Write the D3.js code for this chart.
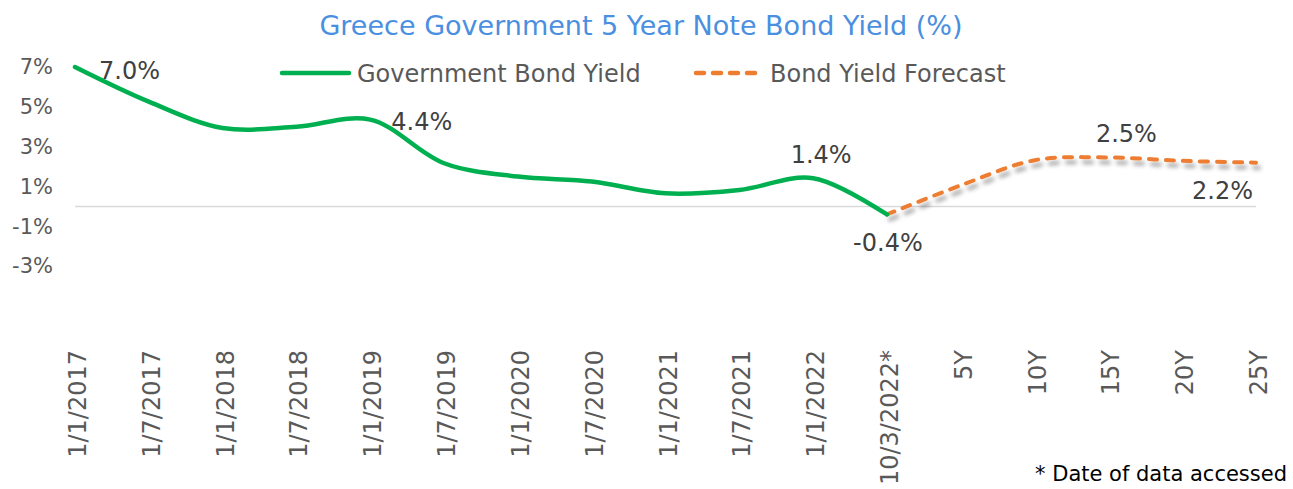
<!DOCTYPE html>
<html>
<head>
<meta charset="utf-8">
<script src="https://cdn.jsdelivr.net/npm/d3@7"></script>
<style>
  body { margin: 0; background: #fff; }
  text { font-family: "DejaVu Sans", Verdana, sans-serif; }
</style>
</head>
<body>
<div id="chart"></div>
<script>
// categories on the x axis
const categories = ['1/1/2017', '1/7/2017', '1/1/2018', '1/7/2018', '1/1/2019', '1/7/2019',
  '1/1/2020', '1/7/2020', '1/1/2021', '1/7/2021', '1/1/2022', '10/3/2022*',
  '5Y', '10Y', '15Y', '20Y', '25Y']
// government bond yield (%)
const yieldCats = categories.slice(0, 12)
const yieldValues = [7.0, 5.26, 3.94, 4.0, 4.36, 2.17, 1.5, 1.25, 0.66, 0.83, 1.42, -0.4]
// forecast (%)
const forecastCats = categories.slice(11)
const forecastValues = [-0.4, 1.06, 2.32, 2.46, 2.29, 2.2]
// y tick labels
const yTicks = [-3, -1, 1, 3, 5, 7]

const width = 1293, height = 489

const svg = d3.select('#chart').append('svg')
  .attr('width', width)
  .attr('height', height)

// shadow for forecast line
const defs = svg.append('defs')
defs.append('filter')
  .attr('id', 'shadow')
  .attr('x', '-10%').attr('y', '-50%')
  .attr('width', '120%').attr('height', '200%')
  .append('feDropShadow')
  .attr('dx', 3).attr('dy', 5)
  .attr('stdDeviation', 2.2)
  .attr('flood-color', '#000')
  .attr('flood-opacity', 0.35)

const x = d3.scalePoint()
  .domain(categories)
  .range([75, 1256])

const y = d3.scaleLinear()
  .domain([-5, 7])
  .range([306.1, 67])

// title
svg.append('text')
  .attr('x', 641)
  .attr('y', 35)
  .attr('text-anchor', 'middle')
  .attr('font-size', 27)
  .attr('fill', '#4a8fe0')
  .text('Greece Government 5 Year Note Bond Yield (%)')

// y axis
const yAxis = svg.append('g')
  .attr('transform', 'translate(56,0)')
  .call(d3.axisLeft(y).tickValues(yTicks).tickSize(0).tickPadding(3).tickFormat(d => d + '%'))
yAxis.select('.domain').remove()
yAxis.selectAll('text')
  .attr('font-size', 21)
  .attr('fill', '#595959')
  .style('font-family', '"DejaVu Sans", Verdana, sans-serif')

// zero line
svg.append('line')
  .attr('x1', x(categories[0]))
  .attr('x2', x(categories[categories.length - 1]))
  .attr('y1', y(0))
  .attr('y2', y(0))
  .attr('stroke', '#d9d9d9')
  .attr('stroke-width', 1.5)

// x labels, rotated
svg.append('g')
  .selectAll('text')
  .data(categories)
  .enter()
  .append('text')
  .attr('transform', d => 'translate(' + (x(d) + 11) + ',350) rotate(-90)')
  .attr('text-anchor', 'end')
  .attr('font-size', 24)
  .attr('fill', '#595959')
  .text(d => d)

const line = d3.line()
  .x(d => x(d[0]))
  .y(d => y(d[1]))
  .curve(d3.curveCatmullRom.alpha(0.5))

const yieldData = d3.zip(yieldCats, yieldValues)
const forecastData = d3.zip(forecastCats, forecastValues)

svg.append('path')
  .datum(forecastData)
  .attr('d', line)
  .attr('fill', 'none')
  .attr('stroke', '#ed7d31')
  .attr('stroke-width', 4)
  .attr('stroke-dasharray', '8,9')
  .attr('stroke-linecap', 'round')
  .attr('filter', 'url(#shadow)')

svg.append('path')
  .datum(yieldData)
  .attr('d', line)
  .attr('fill', 'none')
  .attr('stroke', '#00b050')
  .attr('stroke-width', 4.5)
  .attr('stroke-linecap', 'round')

// data labels (plain hyphen for negatives, like the original)
const fmt = v => v.toFixed(1) + '%'
const labels = [
  { cat: yieldCats[0], v: yieldValues[0], dx: 24, dy: 12, anchor: 'start' },
  { cat: yieldCats[4], v: yieldValues[4], dx: 21, dy: 10, anchor: 'start' },
  { cat: yieldCats[10], v: yieldValues[10], dx: 8, dy: -15, anchor: 'middle' },
  { cat: yieldCats[11], v: yieldValues[11], dx: 1, dy: 37, anchor: 'middle' },
  { cat: forecastCats[3], v: forecastValues[3], dx: 18, dy: -15, anchor: 'middle' },
  { cat: forecastCats[5], v: forecastValues[5], dx: -3, dy: 36, anchor: 'end' }
]
svg.append('g')
  .selectAll('text')
  .data(labels)
  .enter()
  .append('text')
  .attr('x', d => x(d.cat) + d.dx)
  .attr('y', d => y(d.v) + d.dy)
  .attr('text-anchor', d => d.anchor)
  .attr('font-size', 24)
  .attr('fill', '#404040')
  .text(d => fmt(d.v))

// legend
const legend = svg.append('g')
legend.append('line')
  .attr('x1', 282).attr('x2', 349)
  .attr('y1', 73).attr('y2', 73)
  .attr('stroke', '#00b050')
  .attr('stroke-width', 4.5)
  .attr('stroke-linecap', 'round')
legend.append('text')
  .attr('x', 357).attr('y', 82)
  .attr('font-size', 24)
  .attr('fill', '#595959')
  .text('Government Bond Yield')
legend.append('line')
  .attr('x1', 696).attr('x2', 762)
  .attr('y1', 73).attr('y2', 73)
  .attr('stroke', '#ed7d31')
  .attr('stroke-width', 4.5)
  .attr('stroke-dasharray', '8,9')
  .attr('stroke-linecap', 'round')
legend.append('text')
  .attr('x', 770).attr('y', 82)
  .attr('font-size', 24)
  .attr('fill', '#595959')
  .text('Bond Yield Forecast')

// footnote
svg.append('text')
  .attr('x', 1287)
  .attr('y', 481)
  .attr('text-anchor', 'end')
  .attr('font-size', 21)
  .attr('fill', '#000')
  .text('* Date of data accessed')
</script>
</body>
</html>
